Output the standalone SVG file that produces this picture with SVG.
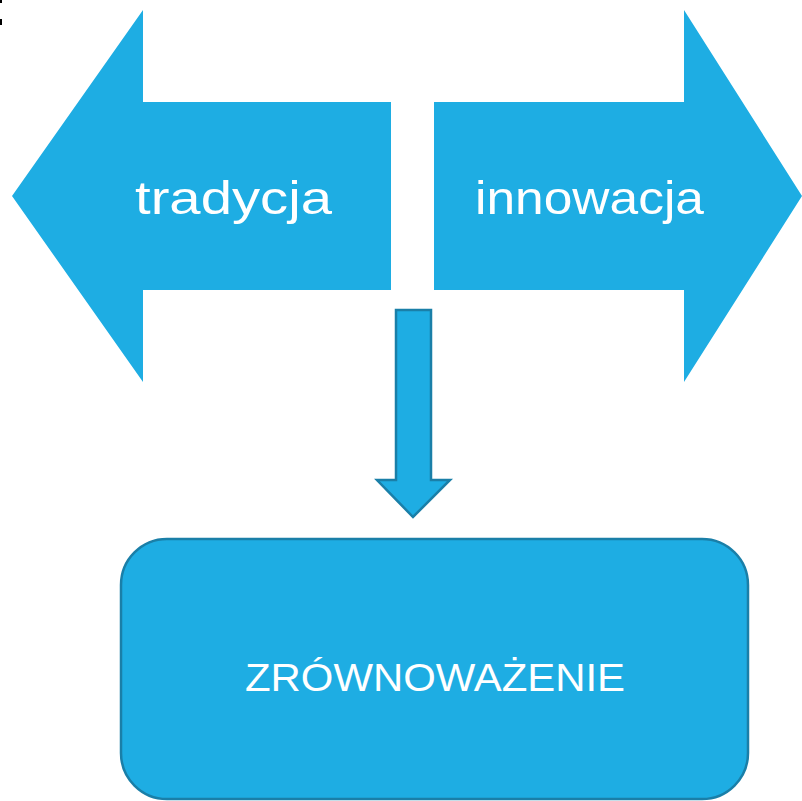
<svg xmlns="http://www.w3.org/2000/svg" width="802" height="801" viewBox="0 0 802 801">
<style>
.shape{fill:#1eade3}
.out{fill:#1eade3;stroke:#1a7fa8;stroke-width:2.5}
.lbl{fill:#fff;font-family:"Liberation Sans",Arial,sans-serif}
</style>
<rect width="802" height="801" fill="#fff"/>
<g id="fragment"><rect x="0" y="0" width="2" height="3" fill="#000"/><rect x="0" y="19" width="2" height="6" fill="#000"/></g>
<g id="tradycja">
<polygon class="shape" points="12,196 143,10 143,102 391,102 391,290 143,290 143,382"/>
<text class="lbl" x="135" y="214" font-size="46" textLength="197" lengthAdjust="spacingAndGlyphs">tradycja</text>
</g>
<g id="innowacja">
<polygon class="shape" points="802,196 684,10 684,102 434,102 434,290 684,290 684,382"/>
<text class="lbl" x="475" y="214" font-size="46" textLength="229" lengthAdjust="spacingAndGlyphs">innowacja</text>
</g>
<g id="connectors">
<polygon class="out" points="396,310 431,310 431,480 450,480 413,517 377,480 396,480"/>
</g>
<g id="zrownowazenie">
<rect class="out" x="121" y="539" width="627" height="260" rx="46"/>
<text class="lbl" x="245" y="691" font-size="39" textLength="380" lengthAdjust="spacingAndGlyphs">ZRÓWNOWAŻENIE</text>
</g>
</svg>
